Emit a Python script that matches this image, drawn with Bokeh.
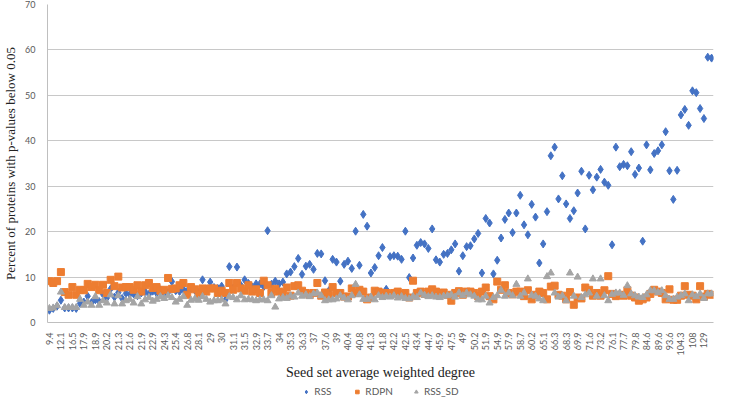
from bokeh.plotting import figure
from bokeh.models import FixedTicker, Legend, LegendItem, Range1d, ColumnDataSource
from bokeh.layouts import column
from bokeh.embed import file_html
from bokeh.resources import INLINE
import math

# x tick labels (every third category is labelled)
tick_labels = ["9.4", "12.1", "16.5", "17.9", "18.9", "20.2", "21.3", "21.6", "21.9", "22.9",
               "24.3", "25.4", "26.8", "28.1", "29", "30", "31.1", "31.5", "32.9", "33.7",
               "34", "35.3", "36.3", "37", "37.6", "39", "40.4", "40.8", "41.3", "41.8",
               "42.2", "42.5", "43.4", "44.7", "45.9", "47.5", "49", "50.2", "51.9", "54.9",
               "57.9", "58.7", "60.2", "65.1", "66.3", "68.3", "69.9", "71.6", "73.2", "76.1",
               "77.7", "79.8", "84.6", "89.6", "93.6", "104.3", "108", "129"]
label_step = 3

rss = [2.7, 3.1, 3.6, 4.9, 3.2, 3.2, 3.2, 3.1, 4.2, 4.5,
       5.8, 4.4, 5.0, 4.6, 6.2, 5.4, 7.4, 5.6, 6.6, 5.3,
       6.4, 6.2, 6.3, 5.9, 6.5, 6.8, 6.2, 6.9, 6.5, 7.2,
       6.4, 6.6, 9.0, 7.0, 6.8, 7.3, 6.9, 7.5, 7.1, 6.6,
       9.4, 7.4, 8.9, 7.7, 7.5, 8.0, 5.0, 12.3, 7.6, 12.2,
       8.2, 9.4, 8.6, 7.8, 8.5, 8.5, 7.9, 20.2, 8.4, 9.1,
       8.5, 8.9, 10.7, 11.1, 12.3, 14.1, 10.6, 12.4, 12.8, 11.7,
       15.2, 15.1, 9.2, 7.0, 13.9, 13.3, 9.1, 12.8, 13.5, 11.9,
       20.1, 12.6, 23.8, 21.2, 10.9, 12.1, 14.7, 16.5, 7.3, 14.5,
       14.7, 14.6, 13.9, 20.1, 9.9, 14.2, 17.0, 17.6, 17.3, 16.3,
       20.6, 13.8, 13.3, 15.0, 15.2, 16.0, 17.3, 11.3, 14.7, 16.7,
       16.9, 18.4, 19.6, 10.9, 22.9, 21.9, 10.7, 13.7, 18.6, 22.7,
       24.1, 19.8, 24.1, 28.0, 21.5, 19.3, 26.0, 23.2, 13.1, 17.3,
       24.4, 36.7, 38.6, 27.2, 32.3, 26.1, 22.9, 24.6, 28.5, 33.3,
       20.6, 32.4, 29.2, 32.0, 33.7, 30.9, 30.2, 17.1, 38.6, 34.3,
       34.8, 34.5, 37.6, 32.6, 34.0, 17.9, 39.1, 33.6, 37.2, 37.8,
       39.1, 42.0, 33.4, 27.1, 33.5, 45.7, 46.9, 43.4, 51.0, 50.6,
       47.1, 44.9, 58.4, 58.2]

rdpn = [9.1, 8.7, 9.1, 11.1, 6.7, 6.1, 7.8, 6.1, 7.2, 7.1,
        8.5, 7.8, 8.3, 7.1, 8.3, 6.5, 9.4, 8.0, 10.1, 7.7,
        7.8, 7.8, 7.2, 8.2, 6.8, 8.2, 8.7, 7.6, 7.8, 7.0,
        7.2, 9.8, 7.4, 7.5, 8.2, 8.7, 6.1, 7.8, 7.3, 6.1,
        7.5, 6.8, 7.5, 7.5, 6.5, 7.0, 6.5, 8.7, 7.2, 8.7,
        7.5, 7.0, 8.2, 6.8, 7.3, 6.5, 9.2, 8.2, 6.5, 7.4,
        6.8, 6.5, 7.7, 5.9, 8.0, 8.2, 7.0, 6.5, 6.1, 6.5,
        8.7, 5.9, 6.6, 6.1, 7.8, 6.5, 6.5, 5.7, 5.7, 7.5,
        6.5, 7.2, 6.8, 5.1, 5.5, 7.0, 6.8, 6.5, 6.5, 6.1,
        6.5, 6.8, 6.2, 6.5, 5.5, 9.2, 6.5, 6.8, 6.3, 6.8,
        7.3, 6.8, 6.5, 6.6, 6.1, 4.8, 6.5, 6.9, 6.1, 6.8,
        6.8, 6.5, 5.8, 6.8, 7.7, 5.8, 5.1, 9.0, 7.2, 8.2,
        6.5, 6.2, 6.8, 6.8, 5.8, 7.1, 5.1, 6.1, 6.8, 6.5,
        5.1, 7.9, 8.1, 6.1, 5.9, 5.1, 6.7, 3.9, 5.5, 5.3,
        7.7, 7.2, 5.9, 6.5, 5.9, 7.1, 10.2, 6.3, 5.8, 6.1,
        5.9, 7.1, 5.9, 5.5, 4.8, 5.1, 5.5, 6.3, 7.2, 6.8,
        6.5, 5.1, 7.3, 5.0, 5.0, 5.9, 8.0, 6.1, 5.9, 5.1,
        8.0, 5.7, 6.3, 6.1]

rss_sd = [3.1, 3.2, 3.7, 6.7, 3.3, 3.3, 3.3, 3.3, 5.1, 3.8,
          4.5, 3.8, 5.7, 3.8, 4.8, 4.3, 6.1, 4.1, 5.9, 4.1,
          4.8, 5.1, 4.3, 5.7, 4.1, 5.0, 5.5, 4.7, 5.1, 5.7,
          5.3, 5.9, 5.5, 4.5, 5.1, 5.7, 3.8, 4.9, 5.2, 4.9,
          5.7, 5.1, 4.5, 4.8, 4.8, 5.0, 4.1, 5.7, 5.5, 5.0,
          5.9, 5.0, 5.1, 5.0, 4.8, 5.0, 5.0, 4.8, 5.9, 3.4,
          5.2, 5.5, 5.3, 5.9, 5.6, 6.5, 5.8, 6.1, 5.7, 6.3,
          6.5, 5.9, 4.8, 5.0, 5.0, 5.2, 5.9, 5.4, 5.0, 5.9,
          8.4, 6.1, 5.1, 5.1, 5.6, 5.0, 5.9, 5.5, 5.8, 5.6,
          5.9, 5.4, 5.7, 5.3, 5.2, 5.7, 5.5, 6.5, 6.0, 5.7,
          5.9, 5.6, 5.5, 5.8, 5.9, 6.1, 5.6, 6.5, 5.9, 6.5,
          6.1, 5.8, 5.0, 5.0, 5.8, 4.3, 5.5, 5.9, 7.1, 5.8,
          6.5, 5.9, 8.4, 5.8, 6.5, 9.6, 6.0, 5.8, 5.2, 4.8,
          10.1, 10.9, 6.5, 5.6, 5.9, 4.8, 10.9, 5.8, 10.0, 5.5,
          6.1, 6.5, 9.6, 5.8, 9.6, 5.9, 4.8, 6.2, 6.5, 6.5,
          6.0, 8.1, 6.3, 5.9, 5.6, 5.5, 6.1, 7.0, 7.0, 6.6,
          7.0, 5.9, 5.1, 5.1, 5.6, 5.9, 6.3, 4.8, 6.1, 5.7,
          6.3, 5.3, 6.3, 6.3]

series_names = ["RSS", "RDPN", "RSS_SD"]
y_ticks = [0, 10, 20, 30, 40, 50, 60, 70]

BLUE, ORANGE, GRAY = "#4472C4", "#ED7D31", "#A5A5A5"

n = len(rss)
idx = list(range(n))
src = ColumnDataSource(dict(x=idx, rss=rss, rdpn=rdpn, rss_sd=rss_sd))

p = figure(width=717, height=382, output_backend="svg", toolbar_location=None,
           x_range=Range1d(-0.5, n - 0.5), y_range=Range1d(0, 70),
           min_border_top=4, min_border_right=4, min_border_left=2, min_border_bottom=2)
p.outline_line_color = None

p.scatter("x", "rss", source=src, marker="diamond", size=8,
          fill_color=BLUE, line_color=BLUE)
p.scatter("x", "rdpn", source=src, marker="square", size=7,
          fill_color=ORANGE, line_color=ORANGE)
p.scatter("x", "rss_sd", source=src, marker="triangle", size=7,
          fill_color=GRAY, line_color=GRAY)

p.xgrid.grid_line_color = None
p.ygrid.grid_line_color = "#c8c8c8"

p.yaxis.ticker = FixedTicker(ticks=y_ticks)
p.yaxis.axis_label = "Percent of proteins with p-values below 0.05"
p.yaxis.axis_label_text_font = "Liberation Serif"
p.yaxis.axis_label_text_font_style = "normal"
p.yaxis.axis_label_text_font_size = "13px"
p.yaxis.axis_label_text_color = "#222222"
p.yaxis.axis_label_standoff = 4
p.yaxis.major_label_text_font = "Lato"
p.yaxis.major_label_text_font_size = "9px"
p.yaxis.major_label_text_color = "#595959"
p.yaxis.major_label_standoff = 6
p.yaxis.axis_line_color = "#bfbfbf"
p.yaxis.major_tick_line_color = None
p.yaxis.minor_tick_line_color = None

p.xaxis.ticker = FixedTicker(ticks=[i * label_step for i in range(len(tick_labels))])
p.xaxis.major_label_overrides = {i * label_step: lab for i, lab in enumerate(tick_labels)}
p.xaxis.major_label_orientation = math.pi / 2
p.xaxis.major_label_text_font = "Lato"
p.xaxis.major_label_text_font_size = "9px"
p.xaxis.major_label_text_color = "#595959"
p.xaxis.major_label_standoff = 4
p.xaxis.axis_label = "Seed set average weighted degree"
p.xaxis.axis_label_text_font = "Liberation Serif"
p.xaxis.axis_label_text_font_style = "normal"
p.xaxis.axis_label_text_font_size = "14px"
p.xaxis.axis_label_text_color = "#222222"
p.xaxis.axis_label_standoff = 6
p.xaxis.axis_line_color = "#bfbfbf"
p.xaxis.major_tick_line_color = None
p.xaxis.minor_tick_line_color = None

# legend strip below the x-axis title (its sample glyphs sit outside the strip's visible range)
lg = figure(width=717, height=18, output_backend="svg", toolbar_location=None,
            x_range=Range1d(0, 1), y_range=Range1d(0, 1),
            min_border=0)
lg.axis.visible = False
lg.grid.visible = False
lg.outline_line_color = None
hidden = ColumnDataSource(dict(x=[-10], y=[-10]))
g1 = lg.scatter("x", "y", source=hidden, marker="diamond", size=8, fill_color=BLUE, line_color=BLUE)
g2 = lg.scatter("x", "y", source=hidden, marker="square", size=7, fill_color=ORANGE, line_color=ORANGE)
g3 = lg.scatter("x", "y", source=hidden, marker="triangle", size=7, fill_color=GRAY, line_color=GRAY)
legend = Legend(items=[LegendItem(label=series_names[0], renderers=[g1]),
                       LegendItem(label=series_names[1], renderers=[g2]),
                       LegendItem(label=series_names[2], renderers=[g3])],
                orientation="horizontal", location="center",
                label_text_font="Lato", label_text_font_size="10px",
                label_text_color="#595959",
                glyph_width=9, glyph_height=9, spacing=18, padding=2, margin=0,
                label_standoff=4, border_line_color=None, background_fill_alpha=0)
lg.add_layout(legend, "center")

open("out.html", "w").write(file_html(column(p, lg, spacing=0), INLINE))
